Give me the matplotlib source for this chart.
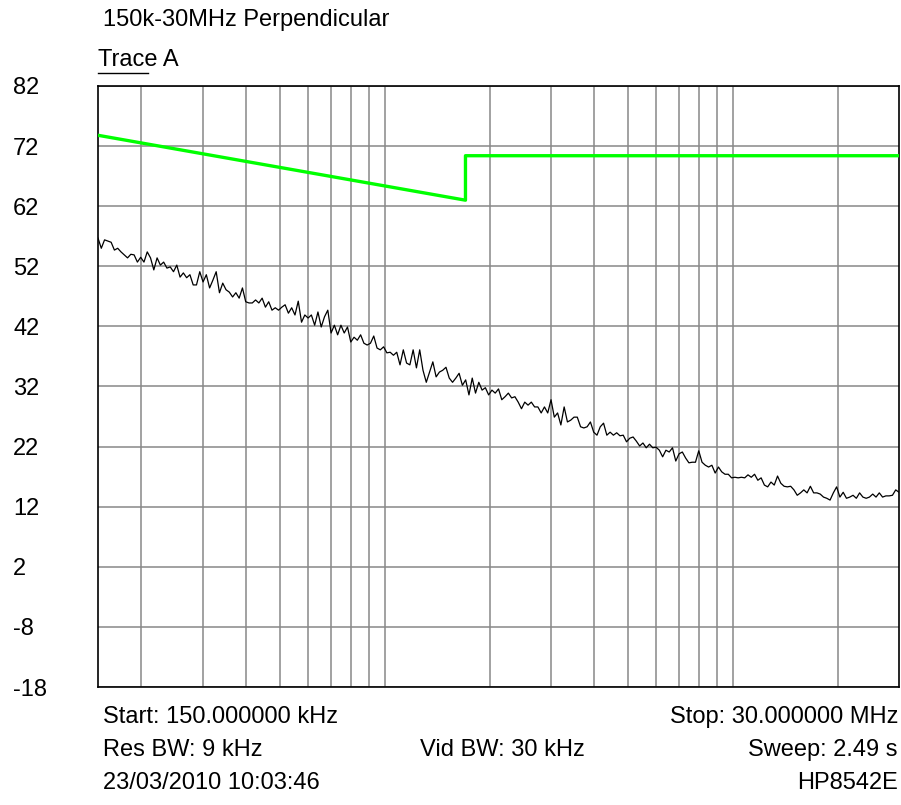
import numpy as np
import matplotlib
matplotlib.use("Agg")
import matplotlib.pyplot as plt

plt.rcParams['font.family'] = ['Liberation Sans', 'DejaVu Sans']
plt.rcParams['axes.unicode_minus'] = False

# y axis (dBuV)
y_ticks = [82, 72, 62, 52, 42, 32, 22, 12, 2, -8, -18]

# vertical grid lines (MHz)
grid_freqs = [0.2, 0.3, 0.4, 0.5, 0.6, 0.7, 0.8, 0.9,
              1, 2, 3, 4, 5, 6, 7, 8, 9, 10, 20]

# limit line (MHz, dB)
limit_freqs = [0.15, 1.705, 1.705, 30]
limit_vals = [73.8, 63.0, 70.4, 70.4]

# measured trace, sweep points from 150 kHz to 30 MHz
trace_vals = [
    56.7, 55.0, 56.4, 56.2, 56.0, 54.7, 55.0, 54.4, 53.9, 53.4, 54.0, 53.9,
    52.7, 53.5, 52.7, 54.4, 53.4, 51.4, 53.4, 52.2, 52.7, 51.7, 51.9, 51.1,
    52.2, 50.2, 50.9, 50.1, 50.6, 48.9, 48.9, 51.1, 49.4, 50.6, 48.4, 49.7,
    51.1, 47.6, 49.2, 48.1, 47.7, 46.9,
    47.6, 46.7, 48.4, 46.1, 45.9, 45.9, 46.4, 45.9, 46.7, 45.2, 46.1, 44.7,
    45.1, 44.7, 45.2, 45.6, 44.2, 45.1, 43.9, 46.2, 42.7, 43.9, 43.4, 43.9,
    42.2, 44.4, 41.9, 43.6, 44.7, 40.9, 42.2, 40.6, 42.2, 40.9, 41.9, 39.4,
    40.2, 39.7, 40.6, 39.2,
    38.9, 39.2, 40.4, 38.4, 38.1, 38.6, 37.6, 37.7, 37.2, 37.7, 35.6, 38.1,
    35.9, 35.6, 38.1, 35.1, 38.1, 34.7, 32.7, 34.4, 36.1, 33.6, 34.4, 34.7,
    35.2, 33.4, 32.7, 33.4, 34.2, 32.2, 33.1, 30.6, 33.4, 30.9, 32.7, 31.4,
    31.8, 30.6, 31.4,
    30.9, 31.6, 29.8, 30.3, 30.9, 30.1, 30.3, 29.4, 28.3, 29.4, 28.9, 29.4,
    28.6, 28.6, 27.6, 28.6, 27.6, 29.8, 26.9, 27.6, 25.6, 28.6, 26.1, 26.4,
    26.9, 26.9, 25.3, 25.1, 25.3, 26.1, 24.4, 23.9, 25.3, 25.9, 23.9, 24.4,
    23.9, 24.3, 23.8, 23.9, 22.8,
    23.4, 23.6, 22.9, 22.1, 22.6, 21.8, 22.4, 21.8, 21.9, 21.4, 20.3, 21.4,
    21.1, 21.8, 19.6, 20.8, 21.1, 20.1, 19.3, 19.4, 19.4, 21.3, 19.4, 18.9,
    18.6, 18.9, 17.6, 18.6, 17.8, 17.4, 17.4, 16.8, 16.9, 16.8, 16.9, 16.8,
    17.3, 16.9, 17.4, 16.4, 16.8, 15.6,
    15.3, 16.1, 15.6, 17.1, 15.9, 15.4, 15.3, 15.4, 14.8, 13.9, 14.3, 14.8,
    14.3, 15.4, 14.3, 14.3, 14.1, 13.6, 13.4, 13.1, 14.3, 15.3, 13.6, 14.4,
    13.4, 13.6, 13.9, 13.4, 14.3, 13.6, 13.4, 13.6, 14.1, 13.6, 14.3, 13.6,
    13.8, 13.8, 13.9, 14.8, 14.4,
]
trace_freqs = np.geomspace(0.15, 30, len(trace_vals))

W, H = 901, 805
FS = 17
fig = plt.figure(figsize=(W / 100, H / 100), dpi=100)
ax = fig.add_axes([98 / W, 1 - 687 / H, 801 / W, 601 / H])

ax.set_xscale('log')
ax.set_xlim(0.15, 30)
ax.set_ylim(-18, 82)

ax.set_xticks(grid_freqs)
ax.set_xticks([], minor=True)
ax.set_xticklabels([])
ax.set_yticks(y_ticks)
ax.tick_params(axis='both', length=0)
# labels sit left-aligned near the figure edge
ax.tick_params(axis='y', labelsize=FS, pad=(98 - 13) * 0.72)
for lab in ax.get_yticklabels():
    lab.set_horizontalalignment('left')
ax.grid(True, color='#888888', linewidth=1.1)
ax.set_axisbelow(True)
for sp in ax.spines.values():
    sp.set_linewidth(1.2)
    sp.set_color('black')

ax.plot(limit_freqs, limit_vals, color='#00ff00', linewidth=2.4, zorder=3)
ax.plot(trace_freqs, trace_vals, color='black', linewidth=0.9, zorder=4)


def txt(x, y, s, ha='left'):
    fig.text(x / W, 1 - y / H, s, ha=ha, va='center', fontsize=FS)


txt(103, 20, '150k-30MHz Perpendicular')
txt(98, 60, 'Trace A')
fig.add_artist(plt.Line2D([98 / W, 148 / W], [1 - 73 / H, 1 - 73 / H],
                          color='black', linewidth=1))

txt(103, 717, 'Start: 150.000000 kHz')
txt(898, 717, 'Stop: 30.000000 MHz', ha='right')
txt(103, 750, 'Res BW: 9 kHz')
txt(502, 750, 'Vid BW: 30 kHz', ha='center')
txt(898, 750, 'Sweep: 2.49 s', ha='right')
txt(103, 783, '23/03/2010 10:03:46')
txt(898, 783, 'HP8542E', ha='right')

fig.savefig('out.png', dpi=100)
